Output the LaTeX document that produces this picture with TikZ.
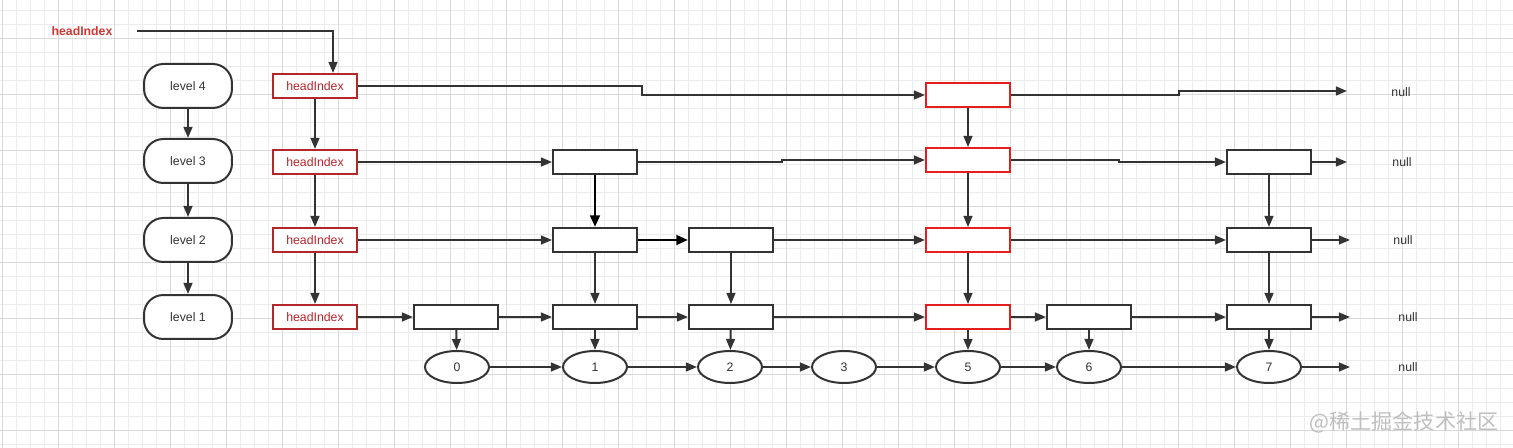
\documentclass[tikz,border=0pt]{standalone}
\usepackage{fontspec}
\setmainfont{Liberation Sans}
\newfontfamily\cjk{Noto Sans CJK SC}
\usetikzlibrary{shapes.geometric,arrows.meta}

\definecolor{ln}{HTML}{333333}
\definecolor{hired}{HTML}{B3262B}
\definecolor{topred}{HTML}{D03838}
\definecolor{brred}{HTML}{E41E1E}
\definecolor{gridminor}{HTML}{ECECEC}
\definecolor{gridmajor}{HTML}{DADADA}

\begin{document}
\begin{tikzpicture}[x=0.02cm,y=-0.02cm,
  every node/.style={font=\fontsize{7}{8}\selectfont, text=ln},
  conn/.style={draw=ln, line width=0.04cm, -{Triangle[length=6.3pt,width=5pt]}},
  thick conn/.style={draw=black, line width=0.055cm, -{Triangle[length=6.6pt,width=5.4pt]}},
  lvl/.style={draw=ln, line width=0.04cm, rounded corners=11pt, minimum width=1.76cm, minimum height=0.88cm, fill=white},
  hibox/.style={draw=hired, line width=0.04cm, minimum width=1.68cm, minimum height=0.48cm, text=hired, fill=white},
  nbox/.style={draw=ln, line width=0.04cm, minimum width=1.68cm, minimum height=0.48cm, fill=white},
  rbox/.style={draw=brred, line width=0.04cm, minimum width=1.68cm, minimum height=0.48cm, fill=white},
  elem/.style={ellipse, draw=ln, line width=0.04cm, minimum width=1.28cm, minimum height=0.64cm, fill=white, inner sep=0pt},
]
% background and grid
\fill[white] (0,0) rectangle (1513,448);
\useasboundingbox (0,0) rectangle (1513,448);
\foreach \i in {0,...,108} \draw[gridminor, line width=0.02cm] ({2.5+14*\i},0) -- ({2.5+14*\i},448);
\foreach \j in {0,...,31} \draw[gridminor, line width=0.02cm] (0,{10.5+14*\j}) -- (1513,{10.5+14*\j});
\foreach \i in {0,...,27} \draw[gridmajor, line width=0.02cm] ({2.5+56*\i},0) -- ({2.5+56*\i},448);
\foreach \j in {0,...,7} \draw[gridmajor, line width=0.02cm] (0,{38.5+56*\j}) -- (1513,{38.5+56*\j});

% top label
\node[font=\bfseries\fontsize{7}{8}\selectfont, text=topred] (top) at (82,31) {headIndex};
\coordinate (tstart) at (137,31);

% level boxes
\node[lvl] (lv4) at (188,86) {level 4};
\node[lvl] (lv3) at (188,161) {level 3};
\node[lvl] (lv2) at (188,240) {level 2};
\node[lvl] (lv1) at (188,317) {level 1};

% headIndex boxes
\node[hibox] (hi4) at (315,86) {headIndex};
\node[hibox] (hi3) at (315,162) {headIndex};
\node[hibox] (hi2) at (315,240) {headIndex};
\node[hibox] (hi1) at (315,317) {headIndex};

% level 4
\node[rbox] (r4) at (968,95) {};
% level 3
\node[nbox] (b3) at (595,162) {};
\node[rbox] (r3) at (968,160) {};
\node[nbox] (e3) at (1269,162) {};
% level 2
\node[nbox] (b2) at (595,240) {};
\node[nbox] (c2) at (731,240) {};
\node[rbox] (r2) at (968,240) {};
\node[nbox] (e2) at (1269,240) {};
% level 1
\node[nbox] (a1) at (456,317) {};
\node[nbox] (b1) at (595,317) {};
\node[nbox] (c1) at (731,317) {};
\node[rbox] (r1) at (968,317) {};
\node[nbox] (d1) at (1089,317) {};
\node[nbox] (e1) at (1269,317) {};
% elements
\node[elem] (n0) at (457,367) {0};
\node[elem] (n1) at (595,367) {1};
\node[elem] (n2) at (730,367) {2};
\node[elem] (n3) at (844,367) {3};
\node[elem] (n5) at (968,367) {5};
\node[elem] (n6) at (1089,367) {6};
\node[elem] (n7) at (1269,367) {7};

% nulls
\node (null4) at (1401,92) {null};
\node (null3) at (1402,162) {null};
\node (null2) at (1403,240) {null};
\node (null1) at (1408,317) {null};
\node (null0) at (1408,367) {null};
\coordinate (f4) at (1347,91);
\coordinate (f3) at (1347,162);
\coordinate (f2) at (1350,240);
\coordinate (f1) at (1350,317);
\coordinate (f0) at (1350,367);

% watermark
\node[font=\cjk\fontsize{12}{14}\selectfont, text=black!25] (wm) at (1404,422) {@稀土掘金技术社区};

% top connector
\draw[conn] (tstart) -| ([xshift=0.36cm]hi4.north);

% level chain
\draw[conn] (lv4) -- (lv3);
\draw[conn] (lv3) -- (lv2);
\draw[conn] (lv2) -- (lv1);

% headIndex chain
\draw[conn] (hi4) -- (hi3);
\draw[conn] (hi3) -- (hi2);
\draw[conn] (hi2) -- (hi1);

% row 4
\draw[conn] (hi4.east) -- (642,86) -- (642,95) -- (r4.west);
\draw[conn] (r4.east) -- (1179,95) -- (1179,91) -- (f4);

% row 3
\draw[conn] (hi3.east) -- (b3.west);
\draw[conn] (b3.east) -- (782,162) -- (782,160) -- (r3.west);
\draw[conn] (r3.east) -- (1119,160) -- (1119,162) -- (e3.west);
\draw[conn] (e3.east) -- (f3);

% row 2
\draw[conn] (hi2.east) -- (b2.west);
\draw[thick conn] (b2.east) -- (c2.west);
\draw[conn] (c2.east) -- (r2.west);
\draw[conn] (r2.east) -- (e2.west);
\draw[conn] (e2.east) -- (f2);

% row 1
\draw[conn] (hi1.east) -- (a1.west);
\draw[conn] (a1.east) -- (b1.west);
\draw[conn] (b1.east) -- (c1.west);
\draw[conn] (c1.east) -- (r1.west);
\draw[conn] (r1.east) -- (d1.west);
\draw[conn] (d1.east) -- (e1.west);
\draw[conn] (e1.east) -- (f1);

% element row
\draw[conn] (n0) -- (n1);
\draw[conn] (n1) -- (n2);
\draw[conn] (n2) -- (n3);
\draw[conn] (n3) -- (n5);
\draw[conn] (n5) -- (n6);
\draw[conn] (n6) -- (n7);
\draw[conn] (n7.east) -- (f0);

% verticals
\draw[conn] (r4) -- (r3);
\draw[conn] (r3) -- (r2);
\draw[conn] (r2) -- (r1);
\draw[thick conn] (b3) -- (b2);
\draw[conn] (b2) -- (b1);
\draw[conn] (c2) -- (c1);
\draw[conn] (e3) -- (e2);
\draw[conn] (e2) -- (e1);
\draw[conn] (a1) -- (n0);
\draw[conn] (b1) -- (n1);
\draw[conn] (c1) -- (n2);
\draw[conn] (r1) -- (n5);
\draw[conn] (d1) -- (n6);
\draw[conn] (e1) -- (n7);
\end{tikzpicture}
\end{document}
